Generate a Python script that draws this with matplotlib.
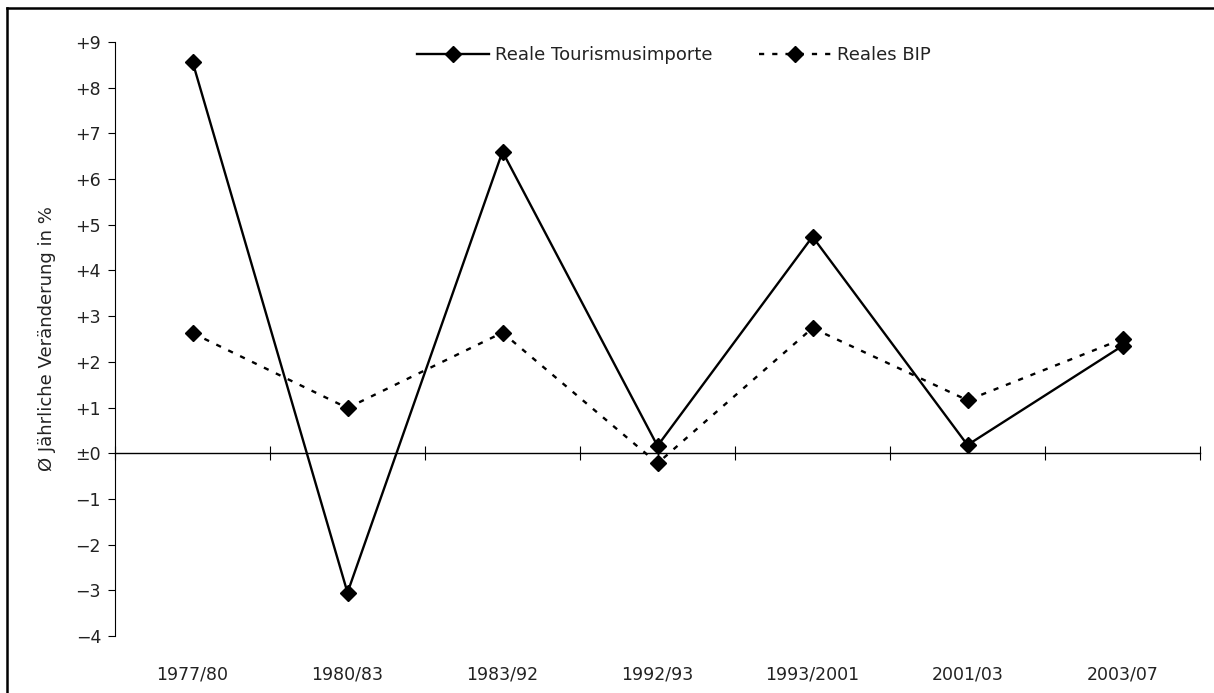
import matplotlib
matplotlib.use("Agg")
import matplotlib.pyplot as plt
from matplotlib.lines import Line2D

# --- Data ---
periods = ["1977/80", "1980/83", "1983/92", "1992/93", "1993/2001", "2001/03", "2003/07"]
tourism = [8.57, -3.05, 6.60, 0.16, 4.74, 0.18, 2.35]
gdp = [2.63, 0.99, 2.64, -0.22, 2.74, 1.16, 2.50]
y_ticks = [-4, -3, -2, -1, 0, 1, 2, 3, 4, 5, 6, 7, 8, 9]

plt.rcParams['font.family'] = ['DejaVu Sans']
FS = 12.5

fig = plt.figure(figsize=(12.14, 6.93), dpi=100)
ax = fig.add_axes([115 / 1214, 1 - 636 / 693, (1200 - 115) / 1214, (636 - 42) / 693])

x = list(range(len(periods)))
ax.plot(x, tourism, color="black", lw=1.7, marker="D", ms=8.5,
        label="Reale Tourismusimporte")
ax.plot(x, gdp, color="black", lw=1.7, ls=(0, (2.2, 3.4)), marker="D", ms=8.5,
        label="Reales BIP")

ax.set_xlim(-0.5, len(periods) - 0.5)
ax.set_ylim(-4, 9)

# y axis
ax.set_yticks(y_ticks)
def fmt(v):
    if v > 0:
        return "+%d" % v
    if v == 0:
        return "\u00b10"
    return "\u2212%d" % abs(v)
ax.set_yticklabels([fmt(v) for v in y_ticks], fontsize=FS, color="#222222")
ax.tick_params(axis="y", direction="out", length=5, width=0.8, pad=5)
ax.set_ylabel("Ø Jährliche Veränderung in %", fontsize=13, labelpad=14, color="#222222")

# x axis on the zero line, ticks at category borders
ax.spines["top"].set_visible(False)
ax.spines["right"].set_visible(False)
ax.spines["bottom"].set_position(("data", 0))
ax.spines["left"].set_linewidth(0.8)
ax.spines["bottom"].set_linewidth(1.0)
ax.set_xticks([i - 0.5 for i in range(len(periods) + 1)])
ax.set_xticklabels([])
ax.tick_params(axis="x", direction="inout", length=10, width=0.8)

for i, p in enumerate(periods):
    ax.annotate(p, xy=(i, -4), xytext=(0, -28), textcoords="offset points",
                ha="center", va="center", fontsize=FS, color="#222222",
                annotation_clip=False)

leg = ax.legend(loc="upper center", bbox_to_anchor=(0.515, 1.02), ncol=2, frameon=False,
                fontsize=13, handlelength=4.0, columnspacing=2.6, handletextpad=0.3)
for t in leg.get_texts():
    t.set_color("#222222")

# outer frame (left and top edge visible)
fig.add_artist(Line2D([7 / 1214, 7 / 1214], [0, 1 - 8 / 693], transform=fig.transFigure,
                      color="black", lw=1.8))
fig.add_artist(Line2D([7 / 1214, 1], [1 - 8 / 693, 1 - 8 / 693], transform=fig.transFigure,
                      color="black", lw=1.8))

fig.savefig("out.png", dpi=100)
